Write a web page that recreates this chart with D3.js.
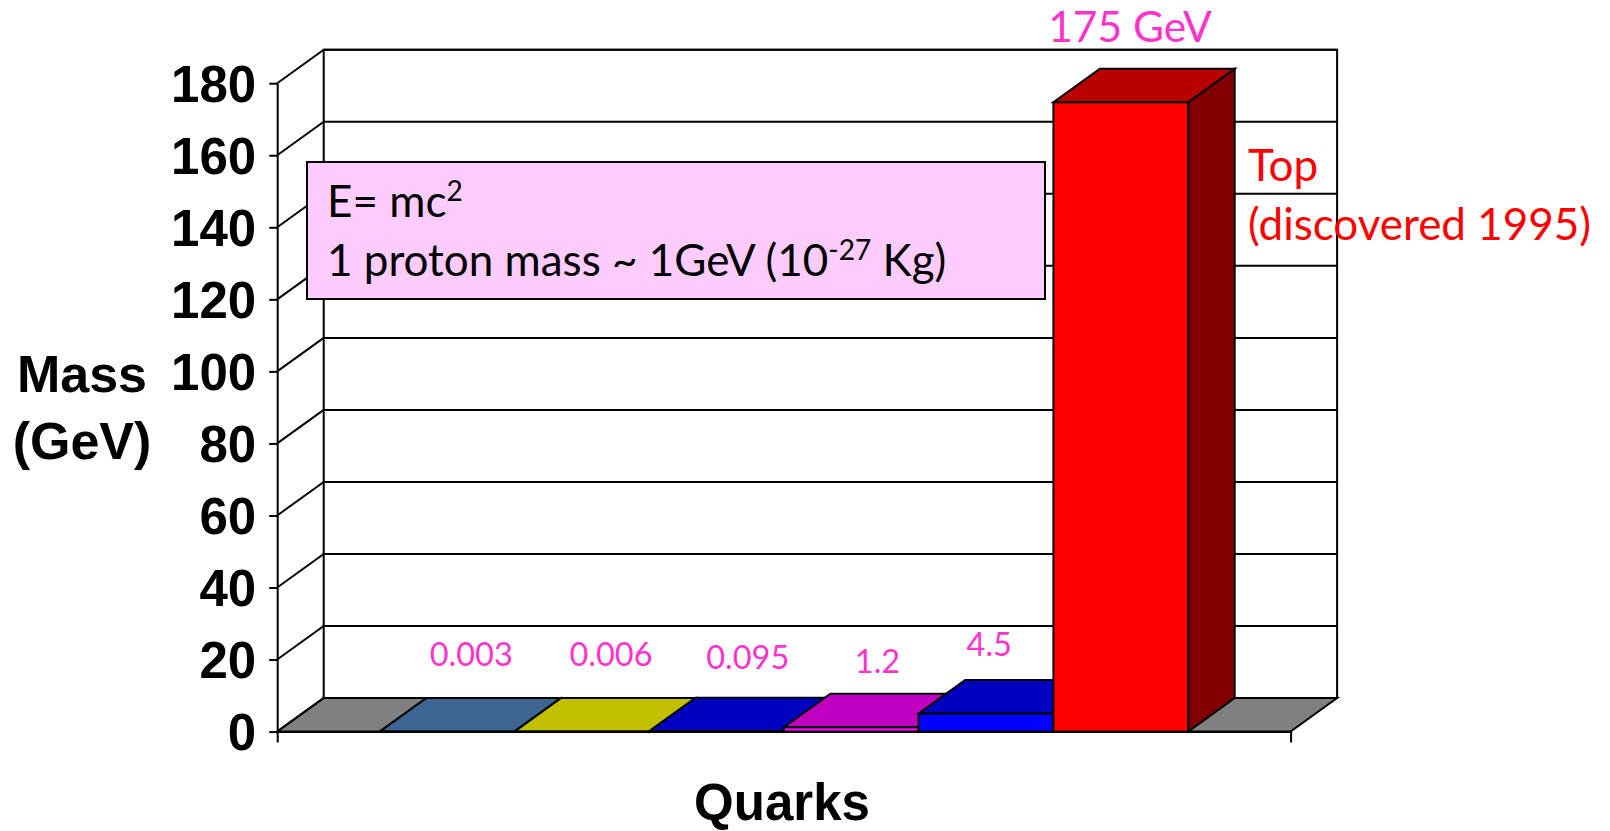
<!DOCTYPE html>
<html lang="en">
<head>
<meta charset="UTF-8">
<title>Quark masses</title>
<script src="https://d3js.org/d3.v7.min.js"></script>
<style>
  body { margin: 0; background: #fff; }
  .axis-text { font-family: "Liberation Sans", Arial, sans-serif; font-weight: bold; font-size: 51px; fill: #000; }
  .note { font-family: Lato, "Open Sans", sans-serif; }
</style>
</head>
<body>
<div id="chart"></div>
<script>
const quarks = ["up", "down", "strange", "charm", "bottom", "top"];
const masses = [0.003, 0.006, 0.095, 1.2, 5, 174.7];
const massLabels = ["0.003", "0.006", "0.095", "1.2", "4.5", "175 GeV"];
const frontColors = ["#4f81bd", "#ffff00", "#0000ff", "#ff00ff", "#0000ff", "#ff0000"];
const topColors = ["#3d6591", "#c0c000", "#0000c0", "#c000c0", "#0000c0", "#b80000"];
const sideColors = ["#2a4666", "#808000", "#000080", "#800080", "#000080", "#800000"];
const massTicks = [0, 20, 40, 60, 80, 100, 120, 140, 160, 180];

const width = 1610, height = 831;
const depthX = 46.5, depthY = -33.5;

const svg = d3.select("#chart").append("svg")
  .attr("width", width)
  .attr("height", height)
  .style("display", "block");

const x = d3.scaleBand().domain(quarks).range([277.2, 1290.6]).paddingInner(0).paddingOuter(0.76);
const y = d3.scaleLinear().domain([0, 180]).range([731.6, 83.2]);

const x0 = x.range()[0], x1 = x.range()[1];
const poly = pts => pts.map(p => p.join(",")).join(" ");

// back wall grid and the slanted lines on the left wall
svg.append("g").selectAll("line.grid")
  .data(massTicks.slice(1))
  .join("line")
  .attr("x1", x0 + depthX).attr("x2", x1 + depthX)
  .attr("y1", d => y(d) + depthY).attr("y2", d => y(d) + depthY)
  .attr("stroke", "#000").attr("stroke-width", 2);

svg.append("g").selectAll("line")
  .data(massTicks)
  .join("line")
  .attr("x1", x0).attr("x2", x0 + depthX)
  .attr("y1", d => y(d)).attr("y2", d => y(d) + depthY)
  .attr("stroke", "#000").attr("stroke-width", 2);

// wall edges
svg.append("path")
  .attr("d", `M${x0 + depthX},${y(0) + depthY}V${y(180) + depthY}H${x1 + depthX}V${y(0) + depthY}`)
  .attr("fill", "none").attr("stroke", "#000").attr("stroke-width", 2);

// floor
svg.append("polygon")
  .attr("points", poly([[x0, y(0)], [x1, y(0)], [x1 + depthX, y(0) + depthY], [x0 + depthX, y(0) + depthY]]))
  .attr("fill", "#808080").attr("stroke", "#000").attr("stroke-width", 2);

// value axis
const yAxis = svg.append("g")
  .attr("transform", `translate(${x0},0)`)
  .call(d3.axisLeft(y).tickValues(massTicks).tickSize(8).tickSizeOuter(0).tickPadding(13));
yAxis.selectAll("path, line").attr("stroke", "#000").attr("stroke-width", 2);
yAxis.selectAll("text").attr("class", "axis-text").attr("dy", "0.36em");

// bars, left to right
const bars = svg.append("g").selectAll("g")
  .data(quarks)
  .join("g");

bars.append("polygon") // side
  .attr("points", (d, i) => {
    const r = x(d) + x.bandwidth();
    return poly([[r, y(0)], [r + depthX, y(0) + depthY], [r + depthX, y(masses[i]) + depthY], [r, y(masses[i])]]);
  })
  .attr("fill", (d, i) => sideColors[i]).attr("stroke", "#000").attr("stroke-width", 2);

bars.append("polygon") // top
  .attr("points", (d, i) => {
    const l = x(d), r = l + x.bandwidth(), t = y(masses[i]);
    return poly([[l, t], [r, t], [r + depthX, t + depthY], [l + depthX, t + depthY]]);
  })
  .attr("fill", (d, i) => topColors[i]).attr("stroke", "#000").attr("stroke-width", 2);

bars.append("rect") // front
  .attr("x", d => x(d))
  .attr("y", (d, i) => y(masses[i]))
  .attr("width", x.bandwidth())
  .attr("height", (d, i) => y(0) - y(masses[i]))
  .attr("fill", (d, i) => frontColors[i]).attr("stroke", "#000").attr("stroke-width", 2);

// category axis: line along the front with end ticks only
const xAxis = svg.append("g")
  .attr("transform", `translate(0,${y(0)})`)
  .call(d3.axisBottom(x).tickSizeInner(0).tickSizeOuter(11).tickFormat(""));
xAxis.selectAll("path").attr("stroke", "#000").attr("stroke-width", 2);

// value labels above the top faces, nudged by hand like the slide
const labelGap = [32, 32, 29, 21, 24, 26.5];
const labelNudge = [1, 6, 8, 3, -20, -14];
svg.append("g").selectAll("text")
  .data(quarks)
  .join("text")
  .attr("class", "note")
  .attr("x", (d, i) => x(d) + x.bandwidth() / 2 + depthX / 2 + labelNudge[i])
  .attr("y", (d, i) => y(masses[i]) + depthY - labelGap[i])
  .attr("text-anchor", "middle")
  .attr("font-size", (d, i) => i === 5 ? 42.5 : 32.5)
  .attr("fill", "#ff33cc")
  .text((d, i) => massLabels[i]);

// axis titles
svg.append("text").attr("class", "axis-text").style("font-size", "52px").attr("x", 82).attr("y", 392).attr("text-anchor", "middle").text("Mass");
svg.append("text").attr("class", "axis-text").style("font-size", "52px").attr("x", 82).attr("y", 459).attr("text-anchor", "middle").text("(GeV)");
svg.append("text").attr("class", "axis-text").attr("x", 782).attr("y", 820).attr("text-anchor", "middle").text("Quarks");

// top quark note
svg.append("text").attr("class", "note").attr("x", 1248).attr("y", 181).attr("font-size", 44).attr("fill", "#ff0000").text("Top");
svg.append("text").attr("class", "note").attr("x", 1248).attr("y", 240).attr("font-size", 44).attr("fill", "#ff0000").text("(discovered 1995)");

// text box
svg.append("rect")
  .attr("x", 307).attr("y", 162).attr("width", 738).attr("height", 137)
  .attr("fill", "#ffccff").attr("stroke", "#000").attr("stroke-width", 2);

const line1 = svg.append("text").attr("class", "note").attr("x", 327).attr("y", 217).attr("font-size", 44).attr("fill", "#000");
line1.append("tspan").text("E= mc");
line1.append("tspan").attr("font-size", 28).attr("dy", -16).text("2");

const line2 = svg.append("text").attr("class", "note").attr("x", 327).attr("y", 276).attr("font-size", 44).attr("fill", "#000");
line2.append("tspan").text("1 proton mass ~ 1GeV (10");
line2.append("tspan").attr("font-size", 28).attr("dy", -16).text("-27");
line2.append("tspan").attr("dy", 16).text(" Kg)");
</script>
</body>
</html>
